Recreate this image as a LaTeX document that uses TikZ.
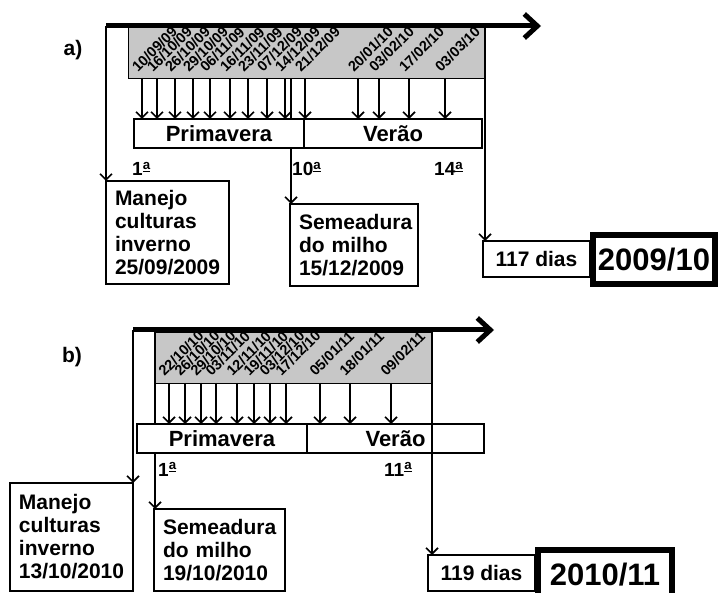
\documentclass[tikz,border=0pt]{standalone}
\usepackage{fontspec}
\setmainfont{Liberation Sans}
\usetikzlibrary{arrows.meta}
\newcommand\ordA{\textsuperscript{\underline{a}}}
\begin{document}
\begin{tikzpicture}[x=1pt,y=-1pt,
  tl/.style={line width=5pt,-{Straight Barb[length=13pt,width=24pt]}},
  vln/.style={line width=1.6pt,-{Straight Barb[length=6pt,width=12pt]}},
  gbox/.style={draw,line width=0.8pt,fill=black!22,anchor=north west,inner sep=0,outer sep=0},
  tbox/.style={draw,line width=1.5pt,fill=white,anchor=north west,outer sep=0,inner xsep=9pt,inner ysep=0,align=left,font=\fontsize{21}{23}\selectfont\bfseries},
  sbox/.style={draw,line width=2.6pt,fill=white,anchor=north west,outer sep=0,inner sep=0,minimum height=29,font=\fontsize{22}{24}\selectfont\bfseries},
  dlbl/.style={rotate=45,anchor=base west,inner sep=0,font=\fontsize{14.5}{14.5}\selectfont\bfseries},
  ord/.style={anchor=base west,inner sep=0,font=\fontsize{19}{20}\selectfont\bfseries},
  plbl/.style={inner sep=0,font=\fontsize{21}{22}\selectfont\bfseries},
  dbox/.style={draw,line width=1.5pt,fill=white,anchor=north west,outer sep=0,inner sep=0,minimum width=107,minimum height=36,font=\fontsize{21}{22}\selectfont\bfseries},
  ybox/.style={draw,line width=6pt,fill=white,inner sep=0,outer sep=0,font=\fontsize{31}{32}\selectfont\bfseries}
]
\useasboundingbox (0,0) rectangle (720,593);

% ---------------- panel a ----------------
\node[plbl] (la) at (73,50) {a)};
\node[gbox,minimum width=357,minimum height=51] (ga) at (128,27.5) {};
\foreach \x/\d in {142/{10/09/09},157/{16/10/09},175/{26/10/09},193/{29/10/09},210/{06/11/09},230/{16/11/09},248/{23/11/09},267/{07/12/09},285/{14/12/09},305/{21/12/09},358/{20/01/10},379/{03/02/10},409/{17/02/10},445/{03/03/10}}{
  \node[dlbl] (da\x) at (\x-4,73) {\d};
}
\coordinate (a0) at (106,26);
\coordinate (aE) at (541,26);
\coordinate (a10) at (291,78);
\coordinate (aR) at (485,28);

\node[tbox,text width=105,minimum height=103] (ma) at (106,181) {Manejo\\culturas\\inverno\\25/09/2009};
\node[tbox,text width=110,minimum height=82] (sa) at (290,204) {Semeadura\\do milho\\15/12/2009};
\node[dbox] (da) at (483,241) {117 dias};
\node[ybox,minimum width=122,minimum height=49] (ya) at (654,259.5) {2009/10};

\draw[vln] (a0) -- (a0 |- ma.north);
\draw[vln] (a10) -- (a10 |- sa.north);
\draw[vln] (aR) -- (aR |- da.north);
\draw[tl] (a0) -- (aE);

\node[sbox,minimum width=170] (pa) at (134,119) {Primavera};
\node[sbox,minimum width=178] (va) at (304,119) {Ver\~ao};
\foreach \x in {142,157,175,193,210,230,248,267,285,305,358,379,409,445}{
  \coordinate (ca\x) at (\x,78);
  \draw[vln] (ca\x) -- (ca\x |- pa.north);
}
\node[ord] (oa1) at (132,176) {1\ordA};
\node[ord] (oa10) at (292,176) {10\ordA};
\node[ord] (oa14) at (434,176) {14\ordA};

% ---------------- panel b ----------------
\node[plbl] (lb) at (72,357) {b)};
\node[gbox,minimum width=277,minimum height=51] (gb) at (155,332) {};
\foreach \x/\d in {169/{22/10/10},185/{26/10/10},201/{29/10/10},216/{03/11/10},237/{12/11/10},254/{19/11/10},270/{03/12/10},286/{17/12/10},320/{05/01/11},350/{18/01/11},391/{09/02/11}}{
  \node[dlbl] (db\x) at (\x-4.5,377) {\d};
}
\coordinate (b0) at (133,330);
\coordinate (bE) at (494,330);
\coordinate (b1) at (155,332);
\coordinate (bR) at (432,332);

\node[tbox,text width=105,minimum height=108] (mb) at (10,483) {Manejo\\culturas\\inverno\\13/10/2010};
\node[tbox,text width=113,minimum height=82] (sb) at (154,509) {Semeadura\\do milho\\19/10/2010};
\node[dbox] (db) at (428,555) {119 dias};
\node[ybox,minimum width=134,minimum height=50] (yb) at (605,575) {2010/11};

\draw[vln] (b0) -- (b0 |- mb.north);
\draw[vln] (b1) -- (b1 |- sb.north);
\draw[tl] (b0) -- (bE);

\node[sbox,minimum width=170] (pb) at (137,424) {Primavera};
\node[sbox,minimum width=177] (vb) at (307,424) {Ver\~ao};
\draw[vln] (bR) -- (bR |- db.north);
\foreach \x in {169,185,201,216,237,254,270,286,320,350,391}{
  \coordinate (cb\x) at (\x,383);
  \draw[vln] (cb\x) -- (cb\x |- pb.north);
}
\node[ord] (ob1) at (158,476) {1\ordA};
\node[ord] (ob11) at (384,476) {11\ordA};
\end{tikzpicture}
\end{document}
